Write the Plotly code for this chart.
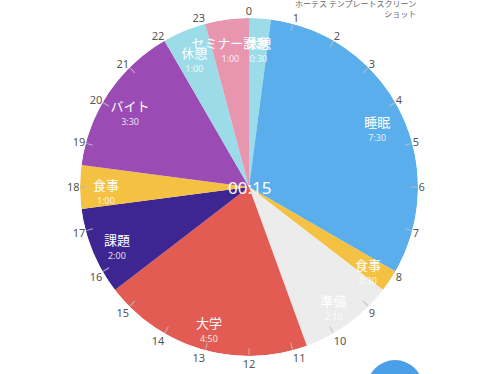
import numpy as np
import plotly.graph_objects as go

# ---- data ----
activities = ["休憩", "睡眠", "食事", "準備", "大学", "課題", "食事", "バイト", "休憩", "セミナー課題"]
duration_minutes = [30, 450, 30, 130, 290, 120, 60, 210, 60, 60]
duration_labels = ["0:30", "7:30", "0:30", "2:10", "4:50", "2:00", "1:00", "3:30", "1:00", "1:00"]
slice_colors = ["#9BDCE8", "#5BAEEC", "#F5C142", "#ECECEC", "#E25C54",
                "#3E2692", "#F5C142", "#9B4CB4", "#9BDCE8", "#E896AF"]
hour_labels = [str(h) for h in range(24)]
center_time = "00:15"
header_text = "ホーテス テンプレートスクリーン<br>ショット"

# ---- geometry derived from data ----
dur = np.array(duration_minutes, dtype=float)
deg_per_min = 360.0 / (24 * 60)
widths = dur * deg_per_min
starts = np.concatenate([[0], np.cumsum(widths)[:-1]])
mids = starts + widths / 2

R_PX = 169.0
name_r = 143.0 / R_PX
th = np.radians(mids)
nx, ny = name_r * np.sin(th), name_r * np.cos(th)
tx, ty = nx, ny - 15.0 / R_PX
time_r = np.hypot(tx, ty)
time_theta = np.degrees(np.arctan2(tx, ty)) % 360

fig = go.Figure()
fig.add_trace(go.Barpolar(
    r=[1] * len(dur), theta=mids, width=widths,
    marker=dict(color=slice_colors, line=dict(width=0)),
    hoverinfo="skip", showlegend=False,
))
fig.add_trace(go.Scatterpolar(
    r=[name_r] * len(dur), theta=mids, mode="text", text=activities,
    textposition="middle center",
    textfont=dict(family="Noto Sans CJK JP", size=13, color="white"),
    hoverinfo="skip", showlegend=False,
))
fig.add_trace(go.Scatterpolar(
    r=time_r, theta=time_theta, mode="text", text=duration_labels,
    textposition="middle center",
    textfont=dict(family="Noto Sans", size=9, color="rgba(255,255,255,0.85)"),
    hoverinfo="skip", showlegend=False,
))

fig.update_layout(
    width=500, height=374,
    margin=dict(l=80, r=82, t=17, b=17),
    paper_bgcolor="white", plot_bgcolor="white",
    polar=dict(
        bgcolor="white",
        domain=dict(x=[0, 1], y=[0, 1]),
        radialaxis=dict(visible=False, range=[0, 1]),
        angularaxis=dict(
            rotation=90, direction="clockwise",
            tickmode="array", tickvals=[h * 15 for h in range(24)], ticktext=hour_labels,
            ticks="inside", ticklen=7, tickwidth=1.2, tickcolor="rgba(190,190,190,0.9)",
            showline=False, showgrid=False,
            tickfont=dict(family="Noto Sans", size=11, color="#555555"),
            layer="above traces",
        ),
    ),
    annotations=[
        dict(text=center_time, x=0.5, y=0.5, xref="paper", yref="paper",
             showarrow=False, font=dict(family="Noto Sans", size=17, color="white")),
        dict(text=header_text, x=1.0, y=1.062, xref="paper", yref="paper",
             xanchor="right", yanchor="top", align="right", showarrow=False,
             font=dict(family="Noto Sans CJK JP", size=8, color="#666666")),
    ],
    shapes=[dict(type="circle", xref="paper", yref="paper",
                 xsizemode="pixel", ysizemode="pixel",
                 xanchor=(395 - 80) / 338, yanchor=-(388 - 357) / 340,
                 x0=-28, x1=28, y0=-28, y1=28,
                 fillcolor="#4A9FE8", line=dict(width=0), layer="above")],
)

fig.write_html("out.html")
